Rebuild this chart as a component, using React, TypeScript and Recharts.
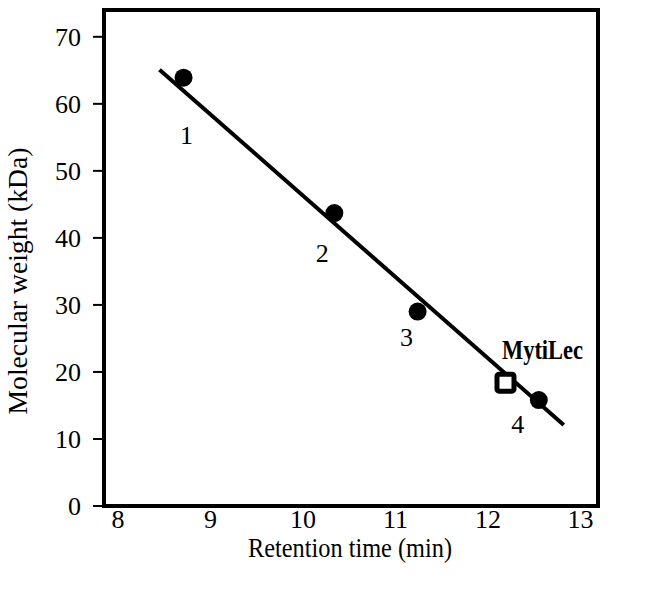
import React from 'react';
import { ComposedChart, Scatter, XAxis, YAxis, ReferenceArea, LabelList } from 'recharts';

// standard proteins
const standardNames = ['1', '2', '3', '4'];
const standardTimes = [8.71, 10.34, 11.24, 12.55];
const standardWeights = [63.9, 43.7, 29.0, 15.8];

// MytiLec
const mytilecTimes = [12.19];
const mytilecWeights = [18.4];

// regression line ends
const fitTimes = [8.45, 12.82];
const fitWeights = [65.1, 12.1];

const xTicks = [8, 9, 10, 11, 12, 13];
const yTicks = [0, 10, 20, 30, 40, 50, 60, 70];

const standards = standardTimes.map((t, i) => ({ t, w: standardWeights[i], name: standardNames[i] }));
const mytilec = mytilecTimes.map((t, i) => ({ t, w: mytilecWeights[i], name: 'MytiLec' }));
const fit = fitTimes.map((t, i) => ({ t, w: fitWeights[i] }));

const FONT = '"Liberation Serif", "Times New Roman", serif';
const X_DOMAIN: [number, number] = [7.85, 13.19];
const Y_DOMAIN: [number, number] = [0, 74];

// label offsets (px) relative to each point
const labelOffsets = [
  [3, 57],
  [-12, 40],
  [-11, 26],
  [-21, 24],
];

const Dot = (props: any) => <circle cx={props.cx} cy={props.cy} r={9} fill="#000" />;

const Square = (props: any) => (
  <rect x={props.cx - 8.5} y={props.cy - 8.5} width={17} height={17} rx={2} fill="#fff" stroke="#000" strokeWidth={5} />
);

const NoShape = () => null;

const StdLabel = (props: any) => {
  const { x, y, width, height, value, index } = props;
  const cx = x + (width || 0) / 2;
  const cy = y + (height || 0) / 2;
  const [dx, dy] = labelOffsets[index] || [0, 0];
  return (
    <text x={cx + dx} y={cy + dy} dy="0.34em" textAnchor="middle" fontSize={26} fontFamily={FONT} fill="#000">
      {value}
    </text>
  );
};

const MytiLabel = (props: any) => {
  const { x, y, width, height, value } = props;
  const cx = x + (width || 0) / 2;
  const cy = y + (height || 0) / 2;
  return (
    <text
      x={cx + 37}
      y={cy - 33}
      dy="0.34em"
      textAnchor="middle"
      fontSize={27}
      fontWeight="bold"
      fontFamily={FONT}
      fill="#000"
      textLength={81}
      lengthAdjust="spacingAndGlyphs"
    >
      {value}
    </text>
  );
};

const XTitle = () => (
  <text
    x={350}
    y={548}
    dy="0.34em"
    textAnchor="middle"
    fontSize={27}
    fontFamily={FONT}
    fill="#000"
    textLength={204}
    lengthAdjust="spacingAndGlyphs"
  >
    Retention time (min)
  </text>
);

const YTitle = () => (
  <text
    x={18}
    y={281}
    transform="rotate(-90 18 281)"
    dy="0.34em"
    textAnchor="middle"
    fontSize={27}
    fontFamily={FONT}
    fill="#000"
    textLength={267}
    lengthAdjust="spacingAndGlyphs"
  >
    Molecular weight (kDa)
  </text>
);

const App = () => {
  return (
    <div style={{ position: 'absolute', left: 0, top: 0, background: '#fff' }}>
      <ComposedChart width={650} height={591} margin={{ top: 10, right: 52, left: 0, bottom: 0 }} style={{ fontFamily: FONT }}>
        <XAxis
          dataKey="t"
          type="number"
          domain={X_DOMAIN}
          ticks={xTicks}
          allowDataOverflow
          height={85}
          axisLine={false}
          tickLine={false}
          tickSize={0}
          tickMargin={4}
          tick={{ fill: '#000', fontSize: 26, fontFamily: FONT }}
          label={<XTitle />}
        />
        <YAxis
          dataKey="w"
          type="number"
          domain={Y_DOMAIN}
          ticks={yTicks}
          allowDataOverflow
          width={104}
          axisLine={false}
          tickSize={11}
          tickMargin={12}
          tickLine={{ stroke: '#000', strokeWidth: 2 }}
          tick={{ fill: '#000', fontSize: 26, fontFamily: FONT }}
          label={<YTitle />}
        />
        <ReferenceArea x1={X_DOMAIN[0]} x2={X_DOMAIN[1]} y1={Y_DOMAIN[0]} y2={Y_DOMAIN[1]} fill="none" stroke="#000" strokeWidth={4} ifOverflow="visible" />
        <Scatter data={fit} line={{ stroke: '#000', strokeWidth: 4 }} shape={NoShape} isAnimationActive={false} />
        <Scatter data={standards} shape={Dot} isAnimationActive={false}>
          <LabelList dataKey="name" content={<StdLabel />} />
        </Scatter>
        <Scatter data={mytilec} shape={Square} isAnimationActive={false}>
          <LabelList dataKey="name" content={<MytiLabel />} />
        </Scatter>
      </ComposedChart>
    </div>
  );
};

export default App;
